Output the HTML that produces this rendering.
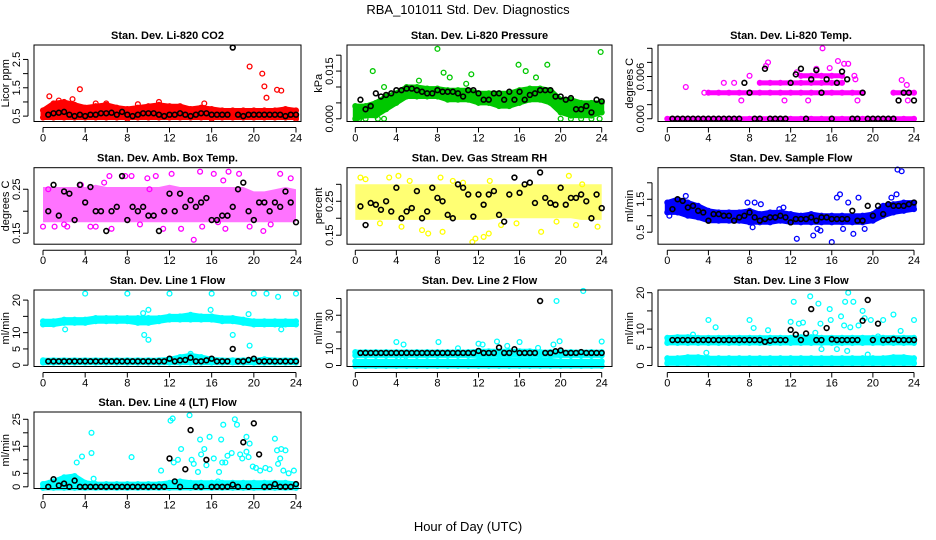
<!DOCTYPE html>
<html><head><meta charset="utf-8">
<style>
html,body{margin:0;padding:0;background:#fff;}
svg{display:block;font-family:"Liberation Sans",sans-serif;}
</style></head>
<body>
<svg id="chart" width="936" height="540" viewBox="0 0 936 540">
<text x="468" y="14" text-anchor="middle" font-size="13">RBA_101011  Std. Dev. Diagnostics</text>
<text x="468" y="531" text-anchor="middle" font-size="13">Hour of Day (UTC)</text>
</svg>
<script>
const xTicks=[0,4,8,12,16,20,24];
const titles=["Stan. Dev. Li-820 CO2","Stan. Dev. Li-820 Pressure","Stan. Dev. Li-820 Temp.","Stan. Dev. Amb. Box Temp.","Stan. Dev. Gas Stream RH","Stan. Dev. Sample Flow","Stan. Dev. Line 1 Flow","Stan. Dev. Line 2 Flow","Stan. Dev. Line 3 Flow","Stan. Dev. Line 4 (LT) Flow"];
const yTitles=["Licor ppm","kPa","degrees C","degrees C","percent","ml/min","ml/min","ml/min","ml/min","ml/min"];
const colors=["#ff0000","#00c800","#ff00ff","#ff00ff","#ffff00","#0000ff","#00ffff","#00ffff","#00ffff","#00ffff"];
const yTickVals=[[0.5,1,1.5,2,2.5],[0,0.005,0.01,0.015,0.02],[0,0.002,0.004,0.006,0.008,0.01],[0.15,0.2,0.25],[0.15,0.2,0.25,0.3],[0.5,1,1.5,2],[0,5,10,15,20],[0,10,20,30,40],[0,5,10,15,20],[0,5,10,15,20,25]];
const yTickLabels=[["0.5","","1.5","","2.5"],["0.000","","","0.015",""],["0.000","","","0.006","",""],["0.15","","0.25"],["0.15","","0.25",""],["0.5","","1.5",""],["0","5","10","","20"],["0","10","","30",""],["0","5","10","","20"],["0","5","","15","","25"]];
const yLims=[[0.31,3.01],[-0.00085,0.0232],[-0.00039,0.01047],[0.125,0.299],[0.1235,0.349],[0.136,2.458],[-0.4,23.1],[-0.6,45.06],[-0.27,20.74],[-0.63,27.7]];

const p1Lo=[0.45,0.45,0.45,0.45,0.45,0.45,0.45,0.45,0.45,0.45,0.45,0.45,0.45,0.45,0.45,0.45,0.45,0.45,0.45,0.45,0.45,0.45,0.45,0.45,0.45];
const p1Hi=[0.7,0.95,1.0,0.9,0.8,0.85,0.9,0.8,0.75,0.8,0.85,0.9,0.85,0.85,0.75,0.8,0.75,0.7,0.7,0.7,0.7,0.7,0.7,0.75,0.7];
const p2Lo=[0,0.001,0.001,0.003,0.005,0.007,0.007,0.007,0.007,0.006,0.006,0.006,0.005,0.005,0.004,0.004,0.005,0.006,0.006,0.005,0.002,0.001,0.001,0.001,0.002];
const p2Hi=[0.004,0.004,0.005,0.007,0.008,0.01,0.01,0.0095,0.0095,0.009,0.009,0.009,0.008,0.008,0.008,0.008,0.009,0.0095,0.0095,0.009,0.006,0.006,0.005,0.005,0.005];
const p4Lo=[0.175,0.175,0.175,0.175,0.175,0.175,0.175,0.175,0.175,0.175,0.175,0.175,0.175,0.175,0.175,0.175,0.175,0.175,0.175,0.175,0.175,0.175,0.175,0.175,0.175];
const p4Hi=[0.255,0.255,0.255,0.255,0.255,0.26,0.255,0.255,0.255,0.255,0.255,0.255,0.26,0.255,0.255,0.255,0.255,0.255,0.255,0.255,0.245,0.245,0.25,0.255,0.25];
const p5Lo=[0.195,0.195,0.195,0.195,0.195,0.195,0.195,0.195,0.195,0.195,0.195,0.195,0.195,0.195,0.2,0.2,0.2,0.2,0.2,0.2,0.2,0.2,0.195,0.195,0.195];
const p5Hi=[0.3,0.3,0.3,0.3,0.3,0.3,0.3,0.3,0.3,0.3,0.3,0.3,0.3,0.3,0.3,0.3,0.3,0.3,0.3,0.3,0.3,0.3,0.3,0.3,0.3];
const p6Lo=[1.1,1.1,1.0,0.95,0.85,0.85,0.85,0.85,0.8,0.8,0.8,0.85,0.8,0.8,0.8,0.8,0.8,0.8,0.8,0.8,0.85,1.0,1.1,1.15,1.2];
const p6Hi=[1.4,1.5,1.4,1.3,1.15,1.1,1.1,1.1,1.15,1.05,1.1,1.1,1.05,1.0,1.05,1.0,1.0,1.0,1.0,1.0,1.05,1.3,1.35,1.4,1.4];
const p7UpLo=[12.5,12.5,13,13,13,13.5,13.5,13.5,13.5,13,13,13.5,14,14,14,14,14,13.5,13.5,13,12.5,12.5,12.5,12.5,12.5];
const p7UpHi=[13.5,13.5,14,14,14,14.5,14.5,14.5,14.5,14.5,14.5,14.5,15,15,15.5,15,15,14.5,14.5,14,13.5,13.5,13.5,13.5,13.5];
const p7LwLo=[0.8,0.8,0.8,0.8,0.8,0.8,0.8,0.8,0.8,0.8,0.8,0.8,0.8,0.8,0.8,0.8,0.8,0.8,0.8,0.8,0.8,0.8,0.8,0.8,0.8];
const p7LwHi=[1.5,1.5,1.5,1.5,1.5,1.5,1.5,1.5,1.5,1.5,1.5,1.5,1.8,2.5,3,2.5,1.8,1.5,1.5,1.5,1.5,1.8,1.5,1.5,1.5];
const p8UpLo=[6,6,6,6,6,6,6,6,6,6,6,6,6,6,6,6,6,6,6,6,6,6,6,6,6];
const p8UpHi=[8,8,8,8,8,8,8,8,8,8,8,8,8.5,8.5,8.5,8.5,8.5,8.5,8,8,8,8,8,8,8];
const p8LwLo=[-0.3,-0.3,-0.3,-0.3,-0.3,-0.3,-0.3,-0.3,-0.3,-0.3,-0.3,-0.3,-0.3,-0.3,-0.3,-0.3,-0.3,-0.3,-0.3,-0.3,-0.3,-0.3,-0.3,-0.3,-0.3];
const p8LwHi=[2.5,2.5,2.5,2.5,2.5,2.5,2.5,2.5,2.5,2.5,2.5,2.5,3,3,3,3,3,3,3,3,2.5,2.5,2.5,2.5,2.5];
const p9UpLo=[6.2,6.2,6.2,6.2,6.2,6.2,6.2,6.2,6.2,6.2,6.2,6.2,6.2,6.2,6.2,6.2,6.2,6.2,6.2,6.2,6.2,6.2,6.2,6.2,6.2];
const p9UpHi=[7.6,7.8,7.8,7.6,7.6,7.6,7.6,7.6,7.6,7.6,7.6,7.6,7.6,7.8,7.8,7.6,7.6,7.6,7.6,7.6,7.6,7.6,7.6,7.6,7.6];
const p9LwLo=[0.6,0.6,0.6,0.6,0.6,0.6,0.6,0.6,0.6,0.6,0.6,0.6,0.6,0.6,0.6,0.6,0.6,0.6,0.6,0.6,0.6,0.6,0.6,0.6,0.6];
const p9LwHi=[2.0,2.0,2.3,2.3,2.0,2.0,2.0,2.0,2.0,2.0,2.0,2.0,2.0,2.0,2.0,2.0,2.0,2.0,2.0,2.0,2.0,2.0,2.3,2.3,2.0];
const p10Lo=[-0.4,-0.4,-0.4,-0.4,-0.4,-0.4,-0.4,-0.4,-0.4,-0.4,-0.4,-0.4,-0.4,-0.4,-0.4,-0.4,-0.4,-0.4,-0.4,-0.4,-0.4,-0.4,-0.4,-0.4,-0.4];
const p10Hi=[1,2,3.5,4,1.5,1,1,1,1,1,1,1,1.5,2,1.5,1.5,1.5,1.5,1.5,1.5,1.5,1.5,1.5,1.5,1];

const p3L0=[0,0,0,0,0,0,0,0,0,0,0,0,0,0,0,0,0,0,0,0,0,0,0,0,0];
const p3L1=[null,null,null,null,0.0037,0.0037,0.0037,0.0037,0.0037,0.0037,0.0037,0.0037,0.0037,0.0037,0.0037,0.0037,0.0037,0.0037,0.0037,0.0037,null,null,0.0037,0.0037,0.0037];
const p3L2=[null,null,null,null,null,null,null,null,null,0.0051,0.0051,0.0051,0.0051,0.0051,0.0051,0.0051,0.0051,0.0051,null,null,null,null,null,null,null];
const p3L3=[null,null,null,null,null,null,null,null,null,null,null,null,null,0.0061,0.0061,0.0061,0.0061,0.0061,null,null,null,null,null,null,null];

const p1Pts=[[0.6,1.2],[3.5,1.45],[1.5,1.05],[2.8,1.1],[19.6,2.25],[20.8,2.0],[21,1.55],[21.2,1.15],[22.2,1.43],[22.6,1.4],[8,0.4],[16,0.4],[24,0.4],[15.3,0.95],[11,1.0],[9,0.92],[6,0.95],[5,0.95]];
const p2Pts=[[0.4,0],[1,0],[2.2,0],[2.8,0],[1.7,0.015],[8,0.022],[8.6,0.0145],[9.2,0.013],[11.3,0.014],[6.2,0.012],[15.9,0.017],[16.6,0.015],[17.6,0.013],[18.7,0.017],[23.9,0.021],[20,0],[21,0],[22,0],[23,0],[23.8,0],[10.8,0.011],[2.8,0.01],[0.5,0.0025],[1.2,0.0025]];
const p3Pts=[[1.8,0.0045],[3.6,0.0037],[5.5,0.0051],[6.5,0.0051],[7.2,0.0026],[8,0.0061],[9.8,0.008],[9.6,0.0075],[11.4,0.0026],[12.6,0.0066],[14.5,0.0071],[15.1,0.01],[16.6,0.0082],[17.2,0.0078],[17.6,0.0078],[18.2,0.0061],[18.3,0.0056],[18.5,0.0026],[13.7,0.0026],[15.8,0.0072],[22.8,0.0055],[23.3,0.0048],[23.4,0.0026],[22.5,0.0026]];
const p4Pts=[[0,0.165],[1.1,0.165],[2,0.17],[2.3,0.165],[4.5,0.165],[5,0.165],[6.3,0.28],[6.5,0.16],[7.8,0.28],[8.4,0.28],[9.2,0.17],[10.1,0.25],[10.7,0.28],[11.4,0.16],[12.2,0.285],[13.1,0.16],[14.3,0.135],[14.9,0.29],[15.1,0.165],[16.2,0.285],[16.6,0.175],[17.1,0.27],[17.3,0.16],[17.6,0.29],[18.6,0.285],[19.6,0.165],[20.9,0.155],[21.6,0.17],[22.5,0.285],[23.5,0.275],[3.6,0.26],[5.8,0.265],[0.5,0.25],[9.9,0.275]];
const p5Pts=[[0.5,0.32],[1,0.315],[3.3,0.32],[4.5,0.175],[6.5,0.165],[7.1,0.155],[8.5,0.16],[8.3,0.32],[11.4,0.13],[11.7,0.14],[12.5,0.145],[13,0.155],[14.2,0.18],[15.7,0.185],[18.1,0.16],[20.8,0.325],[21.5,0.18],[23.6,0.175],[4.2,0.325],[5.3,0.31],[9.5,0.31],[13.1,0.31],[17,0.305],[22.1,0.3],[10.5,0.305],[2.4,0.185],[19.6,0.19]];
const p6Pts=[[0.2,1.0],[1.8,1.6],[7.8,1.4],[8.5,1.4],[9.1,1.35],[10.9,1.2],[11.3,1.25],[12.6,0.3],[14.2,0.4],[14.6,0.6],[14.9,0.55],[16,0.2],[16.5,1.55],[16.8,1.65],[17.1,0.6],[17.6,1.4],[18.1,0.45],[18.6,1.55],[19.2,0.6],[22.4,2.4],[22.8,2.35],[22.3,1.65],[21.8,1.55],[8.3,0.65]];
const p7Pts=[[4,22],[8,22],[12,22],[16,22],[20,22],[21.2,22],[22.3,21],[24,22],[2.1,11],[9.5,16],[10,17],[9.6,9.3],[10,7.8],[18,9.3],[15.9,17],[19.5,15.7],[19.6,6],[22.6,11],[14,3.5]];
const p8Pts=[[4,14],[4.7,12.5],[8.1,14],[12,13],[12.4,12.5],[13.8,14.3],[14.8,11.7],[16,14],[17.8,10.5],[19.3,12.5],[19.6,38.5],[19.9,14.5],[22.2,44.5],[24,14.3],[10,10.3],[4.6,3.5]];
const p9Pts=[[4,12.5],[4.7,10.5],[8,12.5],[8.4,10.3],[9.8,9.7],[12,12],[12.3,17.5],[12.8,11.5],[13.2,11.8],[13.9,19],[14.7,17],[14.9,11.5],[15.8,15.5],[15.9,12.5],[16.9,13.5],[17.3,17.5],[17.6,20],[17.8,10.5],[18.1,17.5],[19,15],[19.2,13],[19.8,12.5],[20.5,8],[21,12.5],[22,14],[22.7,9.5],[24,12.5],[15,4.5],[16.5,4.5],[17.5,4],[14.4,9],[19.5,3],[2.5,8.5],[3.8,3.5],[18.6,11],[17.2,11]];
const p10Pts=[[0.6,1.5],[3.2,9],[3.7,11.2],[4.6,20],[4.6,12.5],[4.8,3],[8.4,11],[11.2,6],[12.1,24.5],[12.3,25.3],[12.4,9],[12.8,10],[13.1,14],[13.9,26.5],[14.1,10],[14.3,8.5],[14.7,5.5],[14.9,17.5],[15,12],[15.3,14],[15.5,8],[15.8,18.5],[16.2,10.5],[16.6,2],[16.7,5.5],[16.9,17.5],[17,9],[17.1,23],[17.3,9],[17.5,11.5],[17.9,12.5],[18.2,25],[18.4,23],[18.7,12],[18.9,10.5],[19.3,18.5],[19.3,13],[19.5,11],[19.6,16],[19.9,7.5],[20.2,7],[20.6,6],[21.1,7],[21.5,6.5],[22,17.8],[22.2,13.5],[22.3,8.5],[22.5,10.5],[22.6,14],[22.8,6],[23,13.5],[23.3,5],[23.8,6]];

const p1Blk=[0.55,0.6,0.62,0.65,0.55,0.5,0.55,0.5,0.55,0.55,0.6,0.6,0.62,0.55,0.65,0.55,0.5,0.55,0.6,0.6,0.6,0.55,0.5,0.55,0.55,0.6,0.55,0.5,0.55,0.6,0.6,0.55,0.55,0.55,0.55,2.92,0.55,0.5,0.55,0.55,0.55,0.55,0.55,0.55,0.55,0.5,0.55,0.55];
const p2Blk=[0.006,0.003,0.004,0.008,0.007,0.0075,0.008,0.009,0.009,0.0095,0.0095,0.009,0.0085,0.008,0.008,0.009,0.0085,0.0085,0.0085,0.008,0.007,0.009,0.009,0.008,0.006,0.006,0.008,0.008,0.006,0.0085,0.006,0.0085,0.006,0.0075,0.008,0.009,0.009,0.009,0.007,0.007,0.006,0.0065,0.003,0.003,0.004,0.002,0.006,0.0055];
const p3Blk=[0,0,0,0,0,0,0,0,0,0,0,0,0,0,0.0051,0.0037,0,0,0.0071,0,0,0,0,0.0051,0.0063,0.0071,0,0.0056,0.0069,0.0037,0.0056,0,0.0051,0.0067,0.0056,0,0,0.0037,0,0,0,0,0,0,0.0026,0.0037,0.0037,0.0026];
const p4Blk=[0.2,0.26,0.19,0.245,0.24,0.18,0.26,0.22,0.255,0.2,0.2,0.155,0.2,0.21,0.28,0.18,0.21,0.2,0.21,0.19,0.19,0.155,0.2,0.24,0.2,0.24,0.21,0.225,0.21,0.22,0.23,0.18,0.18,0.19,0.19,0.21,0.25,0.265,0.2,0.18,0.22,0.22,0.2,0.22,0.21,0.245,0.22,0.175];
const p5Blk=[0.235,0.18,0.245,0.24,0.225,0.25,0.22,0.29,0.2,0.22,0.23,0.28,0.2,0.22,0.29,0.26,0.25,0.21,0.2,0.3,0.29,0.27,0.205,0.27,0.24,0.27,0.28,0.21,0.19,0.27,0.32,0.275,0.3,0.305,0.245,0.335,0.26,0.245,0.24,0.29,0.24,0.26,0.26,0.27,0.25,0.2,0.27,0.23];
const p6Blk=[1.2,1.5,1.45,1.25,1.3,1.15,1.1,0.85,1.05,1.05,1.0,1.0,0.85,0.95,1.0,1.1,0.95,0.85,0.9,0.95,0.95,1.0,0.95,0.8,0.9,0.9,0.9,0.95,0.85,0.95,0.95,0.9,0.9,0.9,0.9,1.15,0.85,0.85,1.3,1.0,1.3,1.05,1.35,1.3,1.3,1.3,1.35,1.4];
const p7Blk=[1.2,1.2,1.2,1.2,1.2,1.2,1.2,1.2,1.2,1.2,1.2,1.2,1.2,1.2,1.2,1.2,1.2,1.2,1.2,1.2,1.2,1.2,1.2,2,1.2,1.5,1.6,2.3,1.2,1.2,1.5,2,1.2,1.2,1.2,5,1.2,1.2,1.6,2,1.2,1.2,1.2,1.2,1.2,1.2,1.2,1.2];
const p8Blk=[7.5,7.5,7.5,7.5,7.5,7.5,7.5,7.5,7.5,7.5,7.5,7.5,7.5,7.5,7.5,7.5,7.5,7.5,7.5,7.5,7.5,7.5,7.5,8.7,7.5,7.5,7.5,10.7,7.5,7.5,9.7,7.5,7.5,7.5,7.5,38.5,7.5,7.5,8.5,9,7.5,7.5,7.5,8,7.5,7.5,7.5,7.5];
const p9Blk=[7,7,7,7,7,7,7,7,7,7,7,7,7,7,7,7,7,7,6.5,6.8,7,7,7,9.8,8.5,7,8.8,15.5,7,7,10.3,7.2,7,7,7,7,7,12.3,18,7,11.5,7,7,7.2,7,7,7,7];
const p10Blk=[0,2.8,0.5,1.2,0,2.3,0,0,0,0,0,0,0,0,0,0,0,0,0,0,0,0,0,10.5,2,0,6.5,21,0,0,10,0,0,0,0,0.8,0,16.5,0,23.5,12,0,0,1,0,0,0,1];

const bandsByPanel=[[[p1Lo,p1Hi,1]],[[p2Lo,p2Hi,1]],[],[[p4Lo,p4Hi,0.55]],[[p5Lo,p5Hi,0.55]],[[p6Lo,p6Hi,1]],[[p7UpLo,p7UpHi,1],[p7LwLo,p7LwHi,1]],[[p8UpLo,p8UpHi,1],[p8LwLo,p8LwHi,1]],[[p9UpLo,p9UpHi,1],[p9LwLo,p9LwHi,1]],[[p10Lo,p10Hi,1]]];
const linesByPanel=[[],[],[p3L0,p3L1,p3L2,p3L3],[],[],[],[],[],[],[]];
const ptsByPanel=[p1Pts,p2Pts,p3Pts,p4Pts,p5Pts,p6Pts,p7Pts,p8Pts,p9Pts,p10Pts];
const blkByPanel=[p1Blk,p2Blk,p3Blk,p4Blk,p5Blk,p6Blk,p7Blk,p8Blk,p9Blk,p10Blk];

const NS="http://www.w3.org/2000/svg";
const svg=document.getElementById('chart');
const colBox=[[34,301],[347,612],[658,924]];
const colX=[[43,296],[355.3,601.7],[667.3,914]];
const rowTop=[45,167.7,290,412];
const boxH=76.5;
const R=2.4;
function el(tag,attrs,parent){const e=document.createElementNS(NS,tag);for(const k in attrs)e.setAttribute(k,attrs[k]);(parent||svg).appendChild(e);return e;}

for(let p=0;p<10;p++){
  const c=p%3,r=Math.floor(p/3);
  const [bl,br]=colBox[c],[x0,x24]=colX[c];
  const top=rowTop[r],bot=top+boxH;
  const [ylo,yhi]=yLims[p];
  const X=h=>x0+(x24-x0)*h/24;
  const Y=v=>bot-(v-ylo)/(yhi-ylo)*boxH;
  const g=el('g',{});
  
  
  const col=colors[p];
  bandsByPanel[p].forEach(b=>{
    const lo=b[0],hi=b[1];
    const solid=b[2]>=1;
    let d='';
    hi.forEach((v,i)=>{d+=(i?'L':'M')+X(i).toFixed(1)+' '+Y(v).toFixed(1);});
    for(let i=lo.length-1;i>=0;i--)d+='L'+X(i).toFixed(1)+' '+Y(lo[i]).toFixed(1);
    const a=el('path',solid?{d:d+'Z',fill:col,stroke:col,'stroke-width':5,'stroke-linejoin':'round'}:{d:d+'Z',fill:col,'fill-opacity':b[2],stroke:'none'},g);
    
    
    if(solid){
      [lo,hi].forEach(arr=>arr.forEach((v,i)=>{
        const ci=el('circle',{cx:X(i),cy:Y(v),r:R,fill:'none',stroke:col,'stroke-width':1.3},g);
        
        
      }));
    }
  });
  linesByPanel[p].forEach(arr=>{
    for(let i=0;i<arr.length;i++){
      if(arr[i]===null)continue;
      if(i+1<arr.length&&arr[i+1]!==null){
        const ln=el('line',{x1:X(i),y1:Y(arr[i]),x2:X(i+1),y2:Y(arr[i+1]),stroke:col,'stroke-width':5,'stroke-linecap':'round'},g);
        
        
      }
      const ci=el('circle',{cx:X(i),cy:Y(arr[i]),r:R,fill:'none',stroke:col,'stroke-width':1.3},g);
      
      
    }
  });
  ptsByPanel[p].forEach(pt=>{
    const ci=el('circle',{cx:X(pt[0]),cy:Y(pt[1]),r:R,fill:'none',stroke:col,'stroke-width':1.3},g);
    
    
  });
  blkByPanel[p].forEach((v,i)=>{
    const ci=el('circle',{cx:X(0.5+i*0.5),cy:Y(v),r:R,fill:'none',stroke:'#000','stroke-width':1.6},g);
    
    
  });
  const bx=el('rect',{x:bl,y:top,width:br-bl,height:boxH,fill:'none',stroke:'#000','stroke-width':1},g);
  
  
  const t=el('text',{x:(bl+br)/2,y:top-6,'text-anchor':'middle','font-size':11,'font-weight':'bold'},g);
  t.textContent=titles[p];
  
  
  el('line',{x1:X(0),x2:X(24),y1:bot+6,y2:bot+6,stroke:'#000','stroke-width':1},g);
  xTicks.forEach(h=>{
    el('line',{x1:X(h),x2:X(h),y1:bot+6,y2:bot+11,stroke:'#000','stroke-width':1},g);
    const tl=el('text',{x:X(h),y:bot+20,'text-anchor':'middle','font-size':11},g);
    tl.textContent=h;
    
    
  });
  const yv=yTickVals[p];
  el('line',{x1:bl-6,x2:bl-6,y1:Y(yv[0]),y2:Y(yv[yv.length-1]),stroke:'#000','stroke-width':1},g);
  yv.forEach((v,i)=>{
    el('line',{x1:bl-11,x2:bl-6,y1:Y(v),y2:Y(v),stroke:'#000','stroke-width':1},g);
    const lab=yTickLabels[p][i];
    if(lab){
      const tl=el('text',{x:bl-14,y:Y(v),'text-anchor':'middle','font-size':11,transform:'rotate(-90 '+(bl-14)+' '+Y(v)+')'},g);
      tl.textContent=lab;
      
      
    }
  });
  const yt=el('text',{x:bl-25,y:top+boxH/2,'text-anchor':'middle','font-size':11,transform:'rotate(-90 '+(bl-25)+' '+(top+boxH/2)+')'},g);
  yt.textContent=yTitles[p];
  
  
}
</script>
</body></html>
